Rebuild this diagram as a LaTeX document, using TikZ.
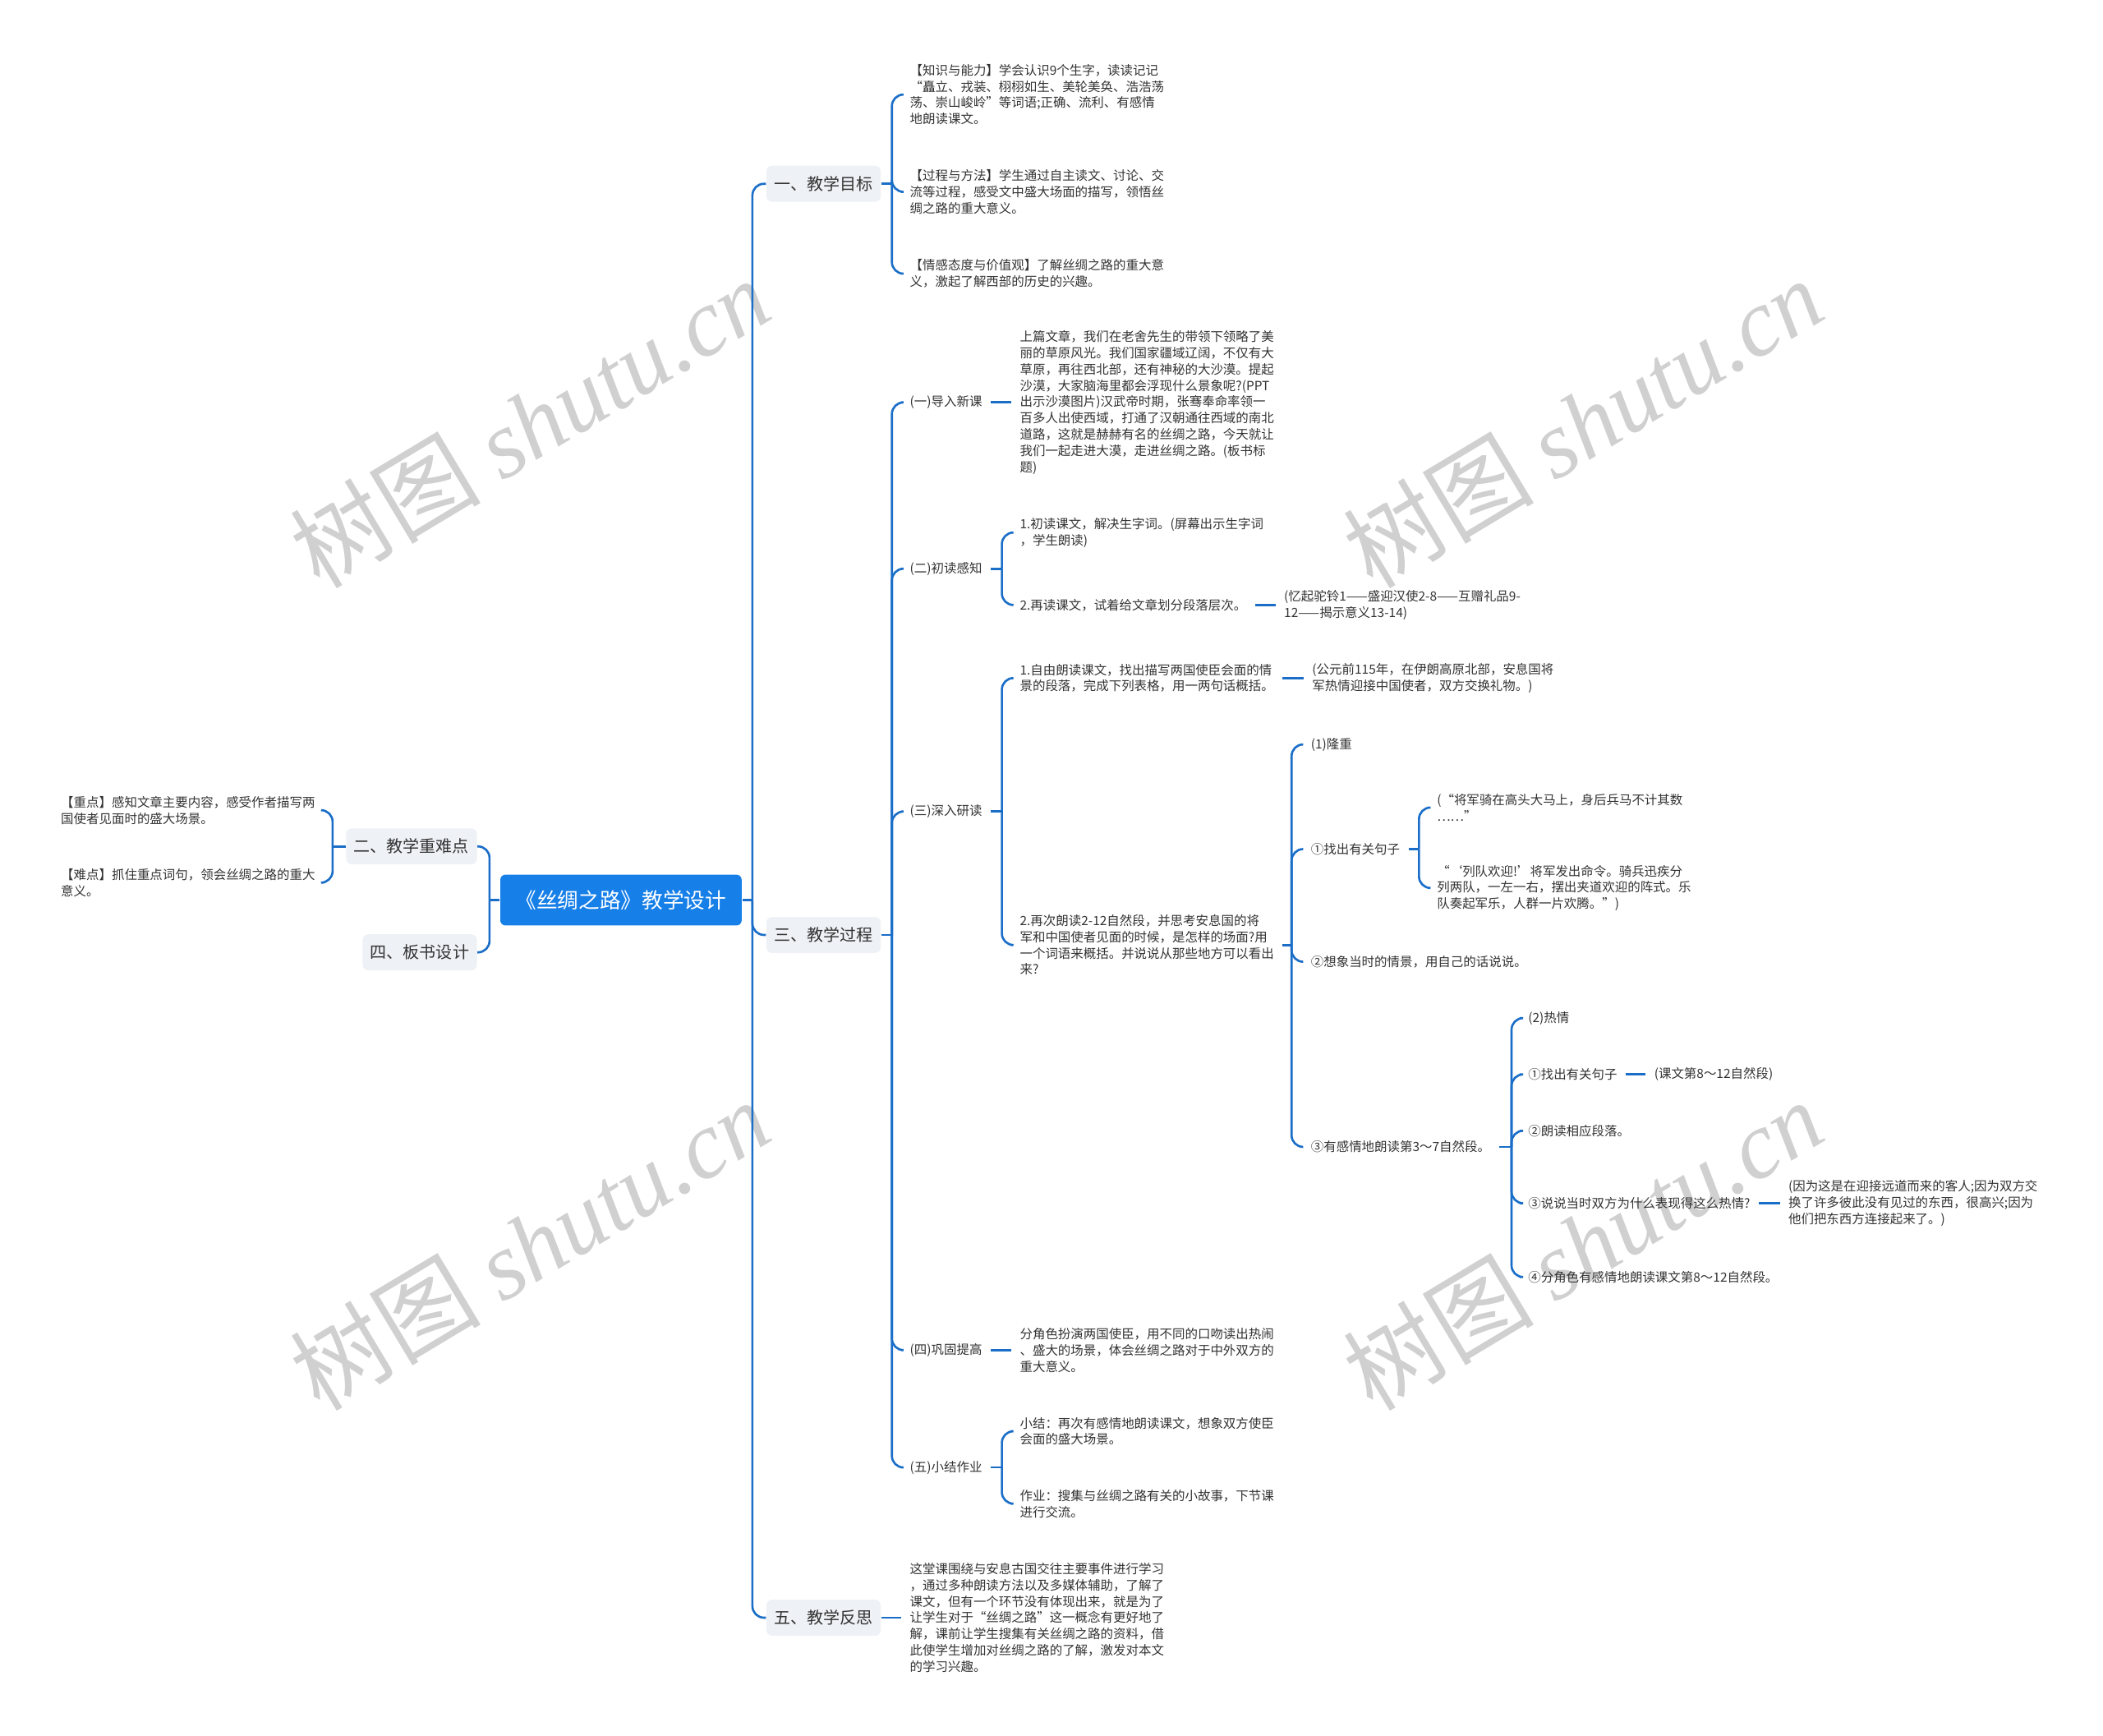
\documentclass[tikz,border=0pt]{standalone}
\usepackage{fontspec}
\setmainfont{Noto Sans CJK SC}
\newfontfamily\wmserif{Liberation Serif}
\definecolor{linkblue}{RGB}{26,110,200}
\definecolor{rootblue}{RGB}{22,127,232}
\definecolor{catgray}{RGB}{238,241,245}
\definecolor{txtgray}{RGB}{51,51,51}
\definecolor{wmgray}{RGB}{208,208,208}

\begin{document}
\begin{tikzpicture}[x=0.016327cm, y=-0.016327cm,
    root/.style={fill=rootblue, text=white, rounded corners=1.8pt, minimum width=83.6pt, minimum height=17.6pt, inner sep=0pt, font=\fontsize{7.3pt}{9pt}\selectfont},
    cat/.style={fill=catgray, text=txtgray, rounded corners=2pt, minimum height=12.5pt, inner xsep=2.7pt, inner ysep=0pt, font=\fontsize{5.7pt}{7pt}\selectfont},
    leaf/.style={text=txtgray, align=left, inner xsep=2.8pt, inner ysep=1pt, font=\fontsize{4.4pt}{5.65pt}\selectfont},
    link/.style={draw=linkblue, line width=0.75pt},
    elbow/.style={link, rounded corners=4pt},
    stamp/.style={text=wmgray, rotate=31, font=\fontsize{33pt}{36pt}\selectfont}]
    \useasboundingbox[fill=white] (0,0) rectangle (1568,1294);

    % Watermarks
    \node[stamp] (wm1) at (395,315) {树图 {\wmserif\itshape shutu.cn}};
    \node[stamp] (wm2) at (1180,315) {树图 {\wmserif\itshape shutu.cn}};
    \node[stamp] (wm3) at (395,928) {树图 {\wmserif\itshape shutu.cn}};
    \node[stamp] (wm4) at (1180,928) {树图 {\wmserif\itshape shutu.cn}};

    % Bracket columns
    \coordinate (xR) at (561,0);
    \coordinate (xL) at (365,0);
    \coordinate (xK) at (248,0);
    \coordinate (xA) at (665,0);
    \coordinate (xB) at (747,0);
    \coordinate (xC) at (963,0);
    \coordinate (xD) at (1058,0);
    \coordinate (xE) at (1127,0);

    % Centre and main branches
    \node[root] (root) at (463,671) {《丝绸之路》教学设计};
    \node[cat, anchor=west] (goal) at (571,137) {一、教学目标};
    \node[cat, anchor=west] (process) at (571,697) {三、教学过程};
    \node[cat, anchor=west] (reflect) at (571,1206) {五、教学反思};
    \node[cat, anchor=east] (keypt) at (356,631) {二、教学重难点};
    \node[cat, anchor=east] (board) at (356,710) {四、板书设计};

    % Teaching goals
    \node[leaf, anchor=west] (g1) at (672,70.5) {【知识与能力】学会认识9个生字，读读记记\\“矗立、戎装、栩栩如生、美轮美奂、浩浩荡\\荡、崇山峻岭”等词语;正确、流利、有感情\\地朗读课文。};
    \node[leaf, anchor=west] (g2) at (672,143) {【过程与方法】学生通过自主读文、讨论、交\\流等过程，感受文中盛大场面的描写，领悟丝\\绸之路的重大意义。};
    \node[leaf, anchor=west] (g3) at (672,204) {【情感态度与价值观】了解丝绸之路的重大意\\义，激起了解西部的历史的兴趣。};

    % Key and difficult points
    \node[leaf, anchor=west] (k1) at (39,604) {【重点】感知文章主要内容，感受作者描写两\\国使者见面时的盛大场景。};
    \node[leaf, anchor=west] (k2) at (39,658) {【难点】抓住重点词句，领会丝绸之路的重大\\意义。};

    % Teaching process
    \node[leaf, anchor=west] (p1) at (672,300) {(一)导入新课};
    \node[leaf, anchor=west] (p2) at (672,424) {(二)初读感知};
    \node[leaf, anchor=west] (p3) at (672,605) {(三)深入研读};
    \node[leaf, anchor=west] (p4) at (672,1006.5) {(四)巩固提高};
    \node[leaf, anchor=west] (p5) at (672,1094) {(五)小结作业};

    \node[leaf, anchor=west] (t1) at (754,300) {上篇文章，我们在老舍先生的带领下领略了美\\丽的草原风光。我们国家疆域辽阔，不仅有大\\草原，再往西北部，还有神秘的大沙漠。提起\\沙漠，大家脑海里都会浮现什么景象呢?(PPT\\出示沙漠图片)汉武帝时期，张骞奉命率领一\\百多人出使西域，打通了汉朝通往西域的南北\\道路，这就是赫赫有名的丝绸之路，今天就让\\我们一起走进大漠，走进丝绸之路。(板书标\\题)};

    \node[leaf, anchor=west] (r1) at (754,397) {1.初读课文，解决生字词。(屏幕出示生字词\\，学生朗读)};
    \node[leaf, anchor=west] (r2) at (754,451) {2.再读课文，试着给文章划分段落层次。};
    \node[leaf, anchor=west] (r2a) at (951,451) {(忆起驼铃1——盛迎汉使2-8——互赠礼品9-\\12——揭示意义13-14)};

    \node[leaf, anchor=west] (s1) at (754,505.5) {1.自由朗读课文，找出描写两国使臣会面的情\\景的段落，完成下列表格，用一两句话概括。};
    \node[leaf, anchor=west] (s1a) at (972,505.5) {(公元前115年，在伊朗高原北部，安息国将\\军热情迎接中国使者，双方交换礼物。)};
    \node[leaf, anchor=west] (s2) at (754,704.5) {2.再次朗读2-12自然段，并思考安息国的将\\军和中国使者见面的时候，是怎样的场面?用\\一个词语来概括。并说说从那些地方可以看出\\来?};

    \node[leaf, anchor=west] (u1) at (971,555) {(1)隆重};
    \node[leaf, anchor=west] (u2) at (971,633) {①找出有关句子};
    \node[leaf, anchor=west] (u3) at (971,717) {②想象当时的情景，用自己的话说说。};
    \node[leaf, anchor=west] (u4) at (971,855) {③有感情地朗读第3～7自然段。};

    \node[leaf, anchor=west] (v1) at (1065,602) {(“将军骑在高头大马上，身后兵马不计其数\\……”};
    \node[leaf, anchor=west] (v2) at (1065,662) {“‘列队欢迎!’将军发出命令。骑兵迅疾分\\列两队，一左一右，摆出夹道欢迎的阵式。乐\\队奏起军乐，人群一片欢腾。”)};

    \node[leaf, anchor=west] (w1) at (1133,759) {(2)热情};
    \node[leaf, anchor=west] (w2) at (1133,801) {①找出有关句子};
    \node[leaf, anchor=west] (w2a) at (1227,801) {(课文第8～12自然段)};
    \node[leaf, anchor=west] (w3) at (1133,843) {②朗读相应段落。};
    \node[leaf, anchor=west] (w4) at (1133,897) {③说说当时双方为什么表现得这么热情?};
    \node[leaf, anchor=west] (w4a) at (1327,897) {(因为这是在迎接远道而来的客人;因为双方交\\换了许多彼此没有见过的东西，很高兴;因为\\他们把东西方连接起来了。)};
    \node[leaf, anchor=west] (w5) at (1133,952) {④分角色有感情地朗读课文第8～12自然段。};

    \node[leaf, anchor=west] (x1) at (754,1006.5) {分角色扮演两国使臣，用不同的口吻读出热闹\\、盛大的场景，体会丝绸之路对于中外双方的\\重大意义。};
    \node[leaf, anchor=west] (y1) at (754,1067) {小结：再次有感情地朗读课文，想象双方使臣\\会面的盛大场景。};
    \node[leaf, anchor=west] (y2) at (754,1121) {作业：搜集与丝绸之路有关的小故事，下节课\\进行交流。};

    % Teaching reflection
    \node[leaf, anchor=west] (z1) at (672,1206) {这堂课围绕与安息古国交往主要事件进行学习\\，通过多种朗读方法以及多媒体辅助，了解了\\课文，但有一个环节没有体现出来，就是为了\\让学生对于“丝绸之路”这一概念有更好地了\\解，课前让学生搜集有关丝绸之路的资料，借\\此使学生增加对丝绸之路的了解，激发对本文\\的学习兴趣。};

    % Connectors, right side
    \draw[link] (root.east) -- (root.east -| xR);
    \foreach \n in {goal,process,reflect} \draw[elbow] (root.east -| xR) |- (\n.west);
    \draw[link] (goal.east) -- (goal.east -| xA);
    \foreach \n in {g1,g2,g3} \draw[elbow] (goal.east -| xA) |- (\n.west);
    \draw[link] (process.east) -- (process.east -| xA);
    \foreach \n in {p1,p2,p3,p4,p5} \draw[elbow] (process.east -| xA) |- (\n.west);
    \draw[link] (reflect.east) -- (reflect.east -| z1.west);

    \draw[link] (p1.east) -- (p1.east -| t1.west);
    \draw[link] (p2.east) -- (p2.east -| xB);
    \foreach \n in {r1,r2} \draw[elbow] (p2.east -| xB) |- (\n.west);
    \draw[link] (r2.east) -- (r2.east -| r2a.west);
    \draw[link] (p3.east) -- (p3.east -| xB);
    \foreach \n in {s1,s2} \draw[elbow] (p3.east -| xB) |- (\n.west);
    \draw[link] (s1.east) -- (s1.east -| s1a.west);
    \draw[link] (s2.east) -- (s2.east -| xC);
    \foreach \n in {u1,u2,u3,u4} \draw[elbow] (s2.east -| xC) |- (\n.west);
    \draw[link] (u2.east) -- (u2.east -| xD);
    \foreach \n in {v1,v2} \draw[elbow] (u2.east -| xD) |- (\n.west);
    \draw[link] (u4.east) -- (u4.east -| xE);
    \foreach \n in {w1,w2,w3,w4,w5} \draw[elbow] (u4.east -| xE) |- (\n.west);
    \draw[link] (w2.east) -- (w2.east -| w2a.west);
    \draw[link] (w4.east) -- (w4.east -| w4a.west);
    \draw[link] (p4.east) -- (p4.east -| x1.west);
    \draw[link] (p5.east) -- (p5.east -| xB);
    \foreach \n in {y1,y2} \draw[elbow] (p5.east -| xB) |- (\n.west);

    % Connectors, left side
    \draw[link] (root.west) -- (root.west -| xL);
    \foreach \n in {keypt,board} \draw[elbow] (root.west -| xL) |- (\n.east);
    \draw[link] (keypt.west) -- (keypt.west -| xK);
    \foreach \n in {k1,k2} \draw[elbow] (keypt.west -| xK) |- (\n.east);
\end{tikzpicture}
\end{document}
